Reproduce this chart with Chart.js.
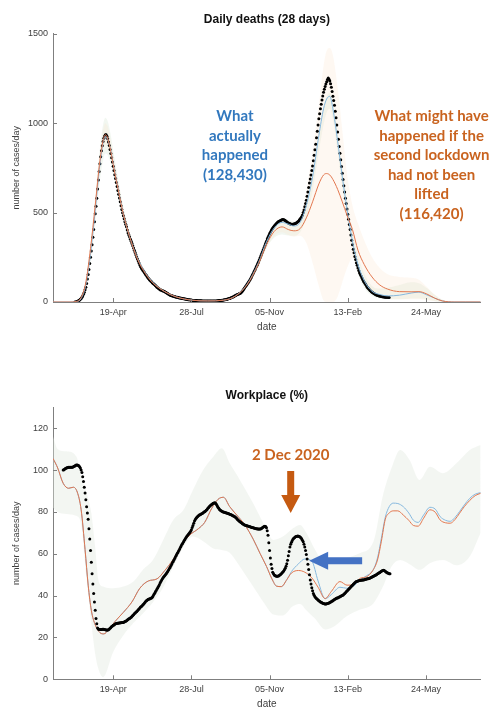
<!DOCTYPE html>
<html>
<head>
<meta charset="utf-8">
<script src="https://cdn.jsdelivr.net/npm/chart.js@4.4.1/dist/chart.umd.min.js"></script>
<style>
  html, body { margin: 0; padding: 0; background: #fff; }
  .box { position: absolute; left: 0; width: 489px; }
</style>
</head>
<body>
<div class="box" style="top:0;height:340px"><canvas id="deathsChart" width="489" height="340"></canvas></div>
<div class="box" style="top:345px;height:364px"><canvas id="workChart" width="489" height="364"></canvas></div>
<script>
// x axis is days counted from 1 Jan 2020
const dayMin = 32, dayMax = 579;
const tickDays = [109, 209, 309, 409, 509];
const tickLabels = ['19-Apr', '28-Jul', '05-Nov', '13-Feb', '24-May'];

// ---- Daily deaths ----
const deathTicks = [0, 500, 1000, 1500];
// observed deaths, one value per day from day 60
const deathsStart = 60;
const deathsActual = [
  0, 0, 1, 3, 5, 8, 11, 15, 20, 26,
  33, 43, 55, 68, 82, 103, 128, 154, 182, 215,
  250, 285, 320, 362, 405, 449, 493, 536, 580, 632,
  682, 730, 773, 812, 845, 874, 897, 915, 928, 935,
  935, 926, 912, 894, 875, 853, 830, 807, 783, 759,
  735, 712, 690, 668, 646, 624, 602, 581, 560, 538,
  517, 499, 482, 465, 448, 434, 421, 403, 386, 374,
  363, 351, 340, 327, 315, 302, 290, 277, 264, 252,
  241, 229, 218, 207, 197, 190, 183, 176, 170, 163,
  157, 151, 145, 139, 133, 127, 122, 117, 113, 108,
  104, 100, 96, 92, 88, 83, 79, 75, 72, 69,
  67, 65, 63, 61, 60, 57, 55, 52, 49, 46,
  43, 40, 38, 36, 35, 33, 32, 31, 30, 28,
  27, 26, 25, 24, 23, 22, 21, 20, 19, 18,
  18, 17, 16, 15, 14, 13, 13, 12, 11, 10,
  10, 9, 9, 8, 8, 8, 8, 7, 7, 7,
  7, 7, 7, 6, 6, 6, 6, 6, 6, 6,
  6, 6, 6, 6, 6, 6, 6, 6, 6, 6,
  6, 6, 7, 7, 8, 8, 9, 9, 10, 10,
  11, 12, 13, 14, 15, 16, 18, 19, 20, 22,
  24, 26, 28, 30, 33, 35, 38, 40, 42, 44,
  46, 48, 51, 55, 60, 66, 72, 78, 85, 91,
  98, 105, 112, 118, 125, 133, 142, 151, 160, 169,
  178, 187, 197, 206, 216, 227, 238, 249, 260, 271,
  282, 293, 305, 316, 328, 340, 352, 362, 372, 381,
  390, 399, 407, 414, 420, 425, 430, 435, 440, 444,
  448, 451, 453, 456, 458, 460, 461, 460, 459, 456,
  452, 448, 445, 442, 440, 438, 436, 435, 435, 435,
  436, 437, 439, 441, 444, 448, 452, 458, 464, 470,
  476, 487, 500, 515, 532, 550, 569, 591, 615, 640,
  665, 687, 710, 735, 760, 790, 820, 851, 882, 918,
  955, 990, 1025, 1053, 1080, 1105, 1130, 1151, 1172, 1189,
  1205, 1219, 1232, 1244, 1252, 1246, 1235, 1220, 1200, 1177,
  1150, 1126, 1100, 1067, 1030, 990, 950, 910, 870, 832,
  795, 757, 720, 685, 650, 615, 580, 550, 520, 491,
  462, 433, 405, 375, 345, 320, 295, 275, 255, 237,
  220, 205, 190, 176, 163, 154, 145, 135, 126, 118,
  110, 103, 96, 89, 82, 77, 72, 67, 63, 59,
  55, 52, 49, 46, 43, 41, 39, 37, 36, 34,
  33, 32, 31, 30, 29, 28, 28, 27, 27, 26,
  26, 25, 25
];
const modelDays = [32, 55, 62, 68, 74, 80, 86, 92, 96, 99,
  102, 106, 110, 116, 122, 130, 140, 150, 160, 175,
  190, 210, 230, 250, 265, 280, 295, 305, 315, 325,
  333, 340, 348, 356, 364, 372, 378, 382, 386, 390,
  396, 402, 408, 415, 422, 430, 440, 450, 460, 475,
  490, 500, 510, 520, 530, 545, 560, 579];
const deathsFit = [0, 0, 2, 20, 95, 270, 510, 770, 890, 925,
  910, 845, 750, 620, 490, 365, 245, 165, 108, 58,
  28, 10, 6, 10, 33, 98, 222, 335, 415, 445,
  435, 425, 445, 540, 700, 930, 1080, 1135, 1150, 1080,
  900, 700, 520, 340, 210, 120, 60, 42, 34, 38,
  50, 55, 40, 22, 6, 0, 0, 0];
const deathsNoLift = [0, 0, 3, 25, 110, 300, 540, 790, 900, 935,
  915, 840, 745, 615, 490, 365, 240, 160, 105, 58,
  28, 10, 6, 10, 32, 95, 215, 320, 395, 420,
  405, 398, 410, 470, 560, 660, 710, 718, 710, 685,
  630, 560, 485, 405, 290, 210, 140, 95, 72, 58,
  57, 58, 45, 22, 6, 0, 0, 0];
const fitBandHi = [0, 0, 5, 30, 120, 320, 580, 860, 990, 1030,
  1010, 930, 820, 670, 530, 390, 260, 175, 115, 65,
  32, 12, 8, 14, 40, 110, 235, 350, 430, 465,
  460, 450, 470, 560, 720, 950, 1090, 1150, 1170, 1110,
  950, 750, 570, 400, 260, 160, 90, 75, 80, 95,
  110, 105, 78, 40, 12, 0, 0, 0];
const fitBandLo = [0, 0, 0, 10, 70, 220, 440, 680, 790, 830,
  820, 770, 690, 570, 450, 340, 225, 150, 100, 50,
  24, 8, 4, 6, 26, 85, 200, 300, 360, 378,
  372, 370, 390, 470, 620, 840, 990, 1060, 1080, 1020,
  840, 640, 470, 290, 160, 80, 35, 20, 15, 15,
  20, 20, 15, 5, 0, 0, 0, 0];
const noLiftBandHi = [0, 0, 4, 30, 120, 320, 570, 840, 960, 1000,
  980, 900, 800, 660, 520, 385, 255, 170, 112, 62,
  30, 11, 7, 12, 36, 105, 230, 345, 425, 455,
  450, 445, 480, 620, 850, 1100, 1320, 1405, 1420, 1380,
  1200, 960, 720, 540, 440, 345, 250, 190, 155, 140,
  135, 125, 85, 42, 12, 0, 0, 0];
const noLiftBandLo = [0, 0, 2, 18, 90, 260, 500, 740, 850, 880,
  860, 800, 710, 590, 470, 350, 230, 150, 100, 55,
  26, 9, 5, 8, 28, 85, 200, 300, 370, 390,
  375, 365, 370, 330, 220, 90, 10, 0, 0, 0,
  30, 110, 190, 245, 230, 140, 60, 28, 18, 15,
  15, 15, 10, 4, 0, 0, 0, 0];

// ---- Workplace mobility ----
const workTicks = [0, 20, 40, 60, 80, 100, 120];
// observed workplace %, one value per day from day 45
const workStart = 45;
const workActual = [
  100.0, 100.2, 100.5, 100.8, 101.0, 101.1, 101.2, 101.3, 101.4, 101.4,
  101.4, 101.4, 101.4, 101.6, 101.8, 102.0, 102.3, 102.4, 102.4, 102.3,
  102.1, 101.6, 101.0, 100.0, 98.8, 96.8, 94.5, 91.8, 89.0, 85.8,
  82.5, 79.5, 76.5, 72.0, 67.0, 61.5, 56.0, 50.5, 45.5, 41.0,
  37.0, 33.0, 29.0, 26.5, 24.5, 24.0, 23.8, 23.8, 23.8, 23.8,
  23.9, 23.9, 23.9, 23.8, 23.7, 23.6, 23.6, 23.6, 23.7, 24.0,
  24.4, 24.8, 25.2, 25.5, 25.8, 26.0, 26.3, 26.5, 26.7, 26.8,
  26.8, 26.9, 26.9, 27.0, 27.0, 27.1, 27.1, 27.2, 27.4, 27.6,
  27.8, 28.0, 28.3, 28.6, 28.9, 29.1, 29.4, 29.7, 30.1, 30.5,
  30.9, 31.3, 31.7, 32.0, 32.4, 32.8, 33.2, 33.6, 34.1, 34.5,
  34.8, 35.2, 35.6, 36.0, 36.5, 37.0, 37.4, 37.7, 38.0, 38.2,
  38.4, 38.5, 38.7, 38.9, 39.2, 39.8, 40.5, 41.1, 41.8, 42.4,
  43.1, 43.8, 44.5, 45.2, 46.0, 46.8, 47.5, 48.0, 48.6, 49.1,
  49.6, 50.1, 50.6, 51.2, 51.8, 52.4, 53.1, 53.7, 54.4, 55.1,
  55.9, 56.6, 57.3, 58.0, 58.8, 59.5, 60.2, 60.9, 61.6, 62.3,
  63.1, 63.8, 64.6, 65.2, 65.8, 66.4, 67.0, 67.6, 68.2, 68.7,
  69.2, 69.7, 70.2, 70.8, 71.5, 72.5, 73.5, 74.6, 75.7, 76.4,
  77.0, 77.4, 77.8, 78.2, 78.5, 78.7, 78.9, 79.1, 79.3, 79.6,
  79.9, 80.1, 80.4, 80.8, 81.2, 81.7, 82.1, 82.6, 83.0, 83.3,
  83.6, 83.9, 84.1, 84.3, 84.4, 84.1, 83.6, 82.9, 82.2, 81.7,
  81.2, 80.8, 80.5, 80.3, 80.1, 79.9, 79.8, 79.7, 79.6, 79.5,
  79.4, 79.2, 79.1, 78.9, 78.8, 78.6, 78.4, 78.2, 78.0, 77.8,
  77.6, 77.2, 76.8, 76.4, 76.0, 75.7, 75.4, 75.1, 74.8, 74.5,
  74.2, 74.0, 73.8, 73.6, 73.5, 73.4, 73.3, 73.1, 73.0, 72.9,
  72.8, 72.6, 72.5, 72.4, 72.3, 72.2, 72.1, 72.0, 71.9, 71.8,
  71.8, 71.8, 71.8, 72.0, 72.2, 72.5, 72.8, 73.0, 73.2, 73.0,
  72.4, 71.0, 68.8, 65.3, 61.5, 58.0, 55.0, 52.9, 51.2, 50.4,
  49.8, 49.6, 49.4, 49.3, 49.3, 49.4, 49.5, 49.8, 50.1, 50.5,
  50.9, 51.3, 51.8, 52.4, 53.1, 54.0, 55.2, 56.9, 59.0, 61.1,
  63.2, 64.5, 65.5, 66.3, 67.0, 67.4, 67.8, 68.1, 68.3, 68.4,
  68.5, 68.4, 68.3, 68.0, 67.7, 67.2, 66.5, 65.7, 64.6, 63.2,
  61.5, 59.6, 57.5, 55.0, 52.5, 50.0, 47.5, 45.5, 43.8, 42.3,
  41.0, 40.2, 39.5, 39.0, 38.6, 38.2, 37.9, 37.6, 37.3, 37.0,
  36.8, 36.6, 36.4, 36.2, 36.1, 36.0, 36.0, 36.1, 36.2, 36.3,
  36.5, 36.7, 36.9, 37.1, 37.4, 37.6, 37.9, 38.1, 38.4, 38.6,
  38.8, 38.9, 39.1, 39.3, 39.5, 39.7, 39.9, 40.1, 40.3, 40.6,
  41.0, 41.4, 41.8, 42.2, 42.6, 43.0, 43.4, 43.8, 44.2, 44.6,
  45.0, 45.4, 45.8, 46.2, 46.5, 46.7, 46.9, 47.0, 47.1, 47.2,
  47.3, 47.3, 47.4, 47.4, 47.5, 47.6, 47.7, 47.8, 47.9, 48.0,
  48.1, 48.2, 48.3, 48.5, 48.7, 48.9, 49.1, 49.3, 49.5, 49.7,
  49.9, 50.1, 50.4, 50.6, 50.9, 51.1, 51.4, 51.6, 51.9, 52.0,
  52.1, 51.9, 51.6, 51.3, 51.0, 50.8, 50.7, 50.5, 50.4
];
const workModelDays = [32, 38, 45, 52, 58, 63, 68, 73, 77, 81,
  86, 92, 97, 103, 111, 122, 133, 143, 154, 165,
  175, 186, 196, 207, 218, 226, 235, 243, 250, 258,
  267, 277, 288, 297, 305, 312, 318, 324, 331, 337,
  346, 354, 363, 371, 380, 388, 399, 408, 416, 425,
  433, 441, 447, 452, 457, 462, 467, 473, 480, 487,
  493, 499, 506, 514, 521, 527, 534, 540, 546, 552,
  558, 565, 572, 579];
const workNoLift = [105.6, 101, 93.7, 91.3, 91.8, 89.5, 81, 62, 45, 33,
  26, 22.3, 21.7, 23.6, 27.5, 32, 37, 43.5, 47, 48,
  52, 57.5, 64, 69, 72, 75, 81.7, 86, 87, 82.5,
  78.5, 74, 67, 60, 54, 48, 44.5, 44.3, 47.6, 50.8,
  52, 51.2, 48.5, 44, 38.6, 42, 46.7, 45, 45.2, 48.3,
  49, 52, 57, 66, 76.5, 79.5, 80.5, 80.5, 78.5, 76,
  73.5, 73.2, 77, 81, 79.8, 76.2, 74.8, 74.6, 76.3, 79.4,
  82.5, 85.5, 87.8, 88.9];
const workFit = [105.6, 101, 93.7, 91.3, 91.8, 89.5, 81, 62, 45, 33,
  26, 22.3, 21.7, 23.6, 27.5, 32, 37, 43.5, 47, 48,
  52, 57.5, 64, 69, 72, 75, 81.7, 86, 87, 82.5,
  78.5, 74, 67, 60, 54, 48, 44.5, 44.3, 47.6, 51.5,
  55.2, 57.5, 56.5, 47, 38.5, 40.5, 44, 43.5, 44.5, 47.5,
  49.5, 52, 58, 67.5, 77.5, 82.5, 84.2, 84, 82.5, 79.5,
  76, 75, 78.5, 82.2, 81.3, 77.8, 76, 75.5, 77.3, 80.2,
  83.3, 86.5, 88.5, 89.2];
const workBandDays = [32, 38, 49, 62, 68, 75, 81, 86, 90, 96,
  109, 122, 135, 147, 160, 173, 186, 199, 211, 224,
  237, 248, 258, 271, 288, 301, 314, 326, 339, 348,
  356, 367, 380, 392, 407, 424, 442, 454, 465, 476,
  488, 501, 514, 531, 548, 565, 579];
const workBandHi = [116, 110, 109, 106.4, 97, 89, 79.4, 63, 47.5, 44.3,
  43.5, 44.3, 46.7, 52.3, 57.1, 66.6, 76.2, 81, 90.5, 100,
  106.4, 110.4, 103.2, 95.3, 84.1, 74.6, 66.6, 68.2, 72.2, 73.8,
  70, 62, 55.4, 56.2, 57.8, 60.2, 66, 88, 101, 109.6,
  104.8, 95.3, 101.6, 98.5, 103.2, 109.6, 112];
const workBandLo = [82, 80, 79, 78, 74, 48, 27, 12, 5, 1,
  13, 21, 27, 31.5, 37, 44, 54, 63.4, 68.2, 66,
  62.5, 61.8, 60.5, 53.9, 44.3, 37, 31, 30.5, 35, 36,
  33, 29, 23.8, 25.4, 30, 33.2, 36.4, 44.3, 53.9, 57,
  55, 52.3, 55.5, 57, 54.5, 58.7, 70];

const axisGrey = '#7f7f7f';
const tickColor = '#404040';
const orange = '#e2774f';
const blue = '#86b8de';
const noteBlue = '#3278be';
const noteOrange = '#c9631f';

function pts(days, vals) { return vals.map((v, i) => ({ x: days[i], y: v })); }
function daily(start, vals) { return vals.map((v, i) => ({ x: start + i, y: v })); }

function lineSet(data, color) {
  return { data, borderColor: color, borderWidth: 1, pointRadius: 0, fill: false,
    cubicInterpolationMode: 'monotone' };
}
function dotSet(data) {
  return { data, showLine: false, pointRadius: 1.5, pointBackgroundColor: '#000',
    pointBorderWidth: 0, pointHoverRadius: 0 };
}
function bandEdge(data, fillTo, color) {
  return { data, borderWidth: 0, pointRadius: 0, cubicInterpolationMode: 'monotone',
    fill: fillTo === null ? false : fillTo, backgroundColor: color };
}

// short inward tick marks on both axes
const inwardTicks = {
  id: 'inwardTicks',
  afterDatasetsDraw(chart) {
    const { ctx, chartArea: a, scales: { x, y } } = chart;
    ctx.save();
    ctx.strokeStyle = axisGrey;
    ctx.lineWidth = 1;
    ctx.beginPath();
    x.ticks.forEach(t => {
      const px = Math.round(x.getPixelForValue(t.value)) + 0.5;
      ctx.moveTo(px, a.bottom); ctx.lineTo(px, a.bottom - 4);
    });
    y.ticks.forEach(t => {
      const py = Math.round(y.getPixelForValue(t.value)) + 0.5;
      ctx.moveTo(a.left, py); ctx.lineTo(a.left + 4, py);
    });
    ctx.stroke();
    ctx.restore();
  }
};

// text notes and block arrows, anchored in data units
const notes = {
  id: 'notes',
  afterDatasetsDraw(chart, args, opts) {
    const { ctx, scales: { x, y } } = chart;
    (opts.texts || []).forEach(n => {
      ctx.save();
      ctx.font = 'bold 15px Lato';
      ctx.fillStyle = n.color;
      ctx.textAlign = 'center';
      ctx.textBaseline = 'middle';
      const cx = x.getPixelForValue(n.day), cy = y.getPixelForValue(n.value);
      n.lines.forEach((t, i) => ctx.fillText(t, cx, cy + i * n.gap));
      ctx.restore();
    });
    (opts.arrows || []).forEach(a => {
      ctx.save();
      ctx.translate(x.getPixelForValue(a.day), y.getPixelForValue(a.value));
      ctx.rotate(a.angle);
      ctx.fillStyle = a.color;
      ctx.beginPath();
      ctx.moveTo(0, 0);
      ctx.lineTo(-a.head, -a.headW / 2);
      ctx.lineTo(-a.head, -a.shaftW / 2);
      ctx.lineTo(-a.len, -a.shaftW / 2);
      ctx.lineTo(-a.len, a.shaftW / 2);
      ctx.lineTo(-a.head, a.shaftW / 2);
      ctx.lineTo(-a.head, a.headW / 2);
      ctx.closePath();
      ctx.fill();
      ctx.restore();
    });
  }
};

function scalesFor(yMax, yTicks, xAxisH, dateLift) {
  return {
    x: {
      type: 'linear', min: dayMin, max: dayMax,
      afterBuildTicks: s => { s.ticks = tickDays.map(v => ({ value: v })); },
      afterFit: s => { s.height = xAxisH; },
      grid: { display: true, drawOnChartArea: false, drawTicks: false },
      border: { display: true, color: axisGrey, width: 1 },
      ticks: { callback: (v, i) => tickLabels[i], color: tickColor, padding: 5,
        maxRotation: 0, autoSkip: false, font: { family: 'Liberation Sans', size: 9 } },
      title: { display: true, text: 'date', color: tickColor,
        font: { family: 'Liberation Sans', size: 10, lineHeight: 1 },
        padding: { top: 0, bottom: dateLift } }
    },
    y: {
      min: 0, max: yMax,
      afterBuildTicks: s => { s.ticks = yTicks.map(v => ({ value: v })); },
      afterFit: s => { s.width = 53; },
      grid: { display: true, drawOnChartArea: false, drawTicks: false },
      border: { display: true, color: axisGrey, width: 1 },
      ticks: { callback: v => String(v), color: tickColor, padding: 5,
        font: { family: 'Liberation Sans', size: 9 } },
      title: { display: true, text: 'number of cases/day', color: tickColor,
        font: { family: 'Liberation Sans', size: 9, lineHeight: 1.2 },
        padding: { top: 11.6, bottom: 0 } }
    }
  };
}

function titleFor(text, padTop, padBottom) {
  return { display: true, text, fullSize: false, color: '#111',
    font: { family: 'Liberation Sans', size: 12, weight: 'bold', lineHeight: 1.2 },
    padding: { top: padTop, bottom: padBottom } };
}

new Chart(document.getElementById('deathsChart'), {
  type: 'line',
  data: {
    datasets: [
      lineSet(pts(modelDays, deathsNoLift), orange),
      lineSet(pts(modelDays, deathsFit), blue),
      dotSet(daily(deathsStart, deathsActual)),
      bandEdge(pts(modelDays, noLiftBandHi), 4, 'rgba(250,222,198,0.22)'),
      bandEdge(pts(modelDays, noLiftBandLo), null, 'rgba(0,0,0,0)'),
      bandEdge(pts(modelDays, fitBandHi), 6, 'rgba(216,230,212,0.33)'),
      bandEdge(pts(modelDays, fitBandLo), null, 'rgba(0,0,0,0)')
    ]
  },
  options: {
    responsive: false, animation: false, devicePixelRatio: 1,
    layout: { padding: { left: 0, right: 8.3, top: 0, bottom: 0 } },
    scales: scalesFor(1500, deathTicks, 38, 8),
    plugins: {
      legend: { display: false }, tooltip: { enabled: false },
      title: titleFor('Daily deaths (28 days)', 12, 7.3),
      notes: {
        texts: [
          { day: 264.6, value: 1037, gap: 19.5, color: noteBlue,
            lines: ['What', 'actually', 'happened', '(128,430)'] },
          { day: 516.2, value: 1037, gap: 19.5, color: noteOrange,
            lines: ['What might have', 'happened if the', 'second lockdown', 'had not been', 'lifted', '(116,420)'] }
        ]
      }
    }
  },
  plugins: [inwardTicks, notes]
});

new Chart(document.getElementById('workChart'), {
  type: 'line',
  data: {
    datasets: [
      dotSet(daily(workStart, workActual)),
      lineSet(pts(workModelDays, workNoLift), orange),
      lineSet(pts(workModelDays, workFit), blue),
      bandEdge(pts(workBandDays, workBandHi), 4, 'rgba(225,232,222,0.4)'),
      bandEdge(pts(workBandDays, workBandLo), null, 'rgba(0,0,0,0)')
    ]
  },
  options: {
    responsive: false, animation: false, devicePixelRatio: 1,
    layout: { padding: { left: 0, right: 8.3, top: 0, bottom: 0 } },
    scales: scalesFor(130, workTicks, 29.7, 0),
    plugins: {
      legend: { display: false }, tooltip: { enabled: false },
      title: titleFor('Workplace (%)', 43.5, 4.4),
      notes: {
        texts: [
          { day: 336, value: 107, gap: 0, color: noteOrange, lines: ['2 Dec 2020'] }
        ],
        arrows: [
          { day: 336, value: 79.5, angle: Math.PI / 2, len: 42, head: 18, headW: 19, shaftW: 7, color: '#c55a11' },
          { day: 359.6, value: 56.7, angle: Math.PI, len: 53, head: 19, headW: 18, shaftW: 7, color: '#4472c4' }
        ]
      }
    }
  },
  plugins: [inwardTicks, notes]
});
</script>
</body>
</html>
